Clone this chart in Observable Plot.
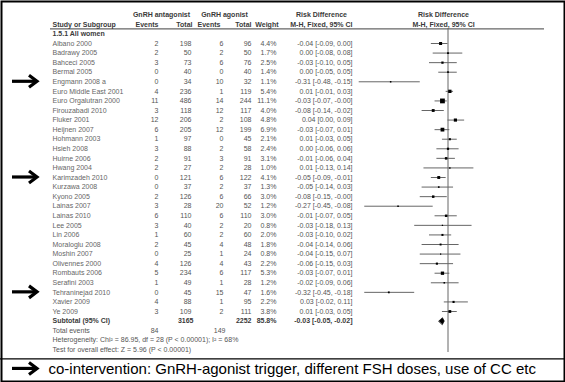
<!DOCTYPE html>
<html><head><meta charset="utf-8">
<script src="https://cdn.jsdelivr.net/npm/d3@7"></script>
<script src="https://cdn.jsdelivr.net/npm/@observablehq/plot@0.6"></script>
<style>
html,body{margin:0;padding:0;background:#fff}
#chart svg{display:block}
</style></head><body><div id="chart"></div>
<script>
// ---- data ----
const studies = ["Albano 2000","Badrawy 2005","Bahceci 2005","Bermal 2005","Engmann 2008 a","Euro Middle East 2001","Euro Orgalutran 2000","Firouzabadi 2010","Fluker 2001","Heijnen 2007","Hohmann 2003","Hsieh 2008","Huirne 2006","Hwang 2004","Karimzadeh 2010","Kurzawa 2008","Kyono 2005","Lainas 2007","Lainas 2010","Lee 2005","Lin 2006","Moraloglu 2008","Moshin 2007","Olivennes 2000","Rombauts 2006","Serafini 2003","Tehraninejad 2010","Xavier 2009","Ye 2009"];
const antagonistEvents = [2,2,3,0,0,4,11,3,12,6,1,3,2,2,0,0,2,3,6,3,1,2,0,4,5,1,0,4,3];
const antagonistTotal  = [198,50,73,40,34,236,486,118,206,205,97,88,91,27,121,37,126,28,110,40,60,45,25,126,234,49,45,88,109];
const agonistEvents    = [6,2,6,0,10,1,14,12,2,12,0,2,3,2,6,2,6,20,6,2,2,4,1,4,6,1,15,1,2];
const agonistTotal     = [96,50,76,40,32,119,244,117,108,199,45,58,91,28,122,37,66,52,110,20,60,48,24,43,117,28,47,95,111];
const weights          = [4.4,1.7,2.5,1.4,1.1,5.4,11.1,4.0,4.8,6.9,2.1,2.4,3.1,1.0,4.1,1.3,3.0,1.2,3.0,0.8,2.0,1.8,0.8,2.2,5.3,1.2,1.6,2.2,3.8];
const riskDiff         = [-0.04,0.00,-0.03,0.00,-0.31,0.01,-0.03,-0.08,0.04,-0.03,0.01,0.00,-0.01,0.01,-0.05,-0.05,-0.08,-0.27,-0.01,-0.03,-0.03,-0.04,-0.04,-0.06,-0.03,-0.02,-0.32,0.03,0.01];
const ciLow            = [-0.09,-0.08,-0.10,-0.05,-0.48,-0.01,-0.07,-0.14,0.00,-0.07,-0.03,-0.06,-0.06,-0.13,-0.09,-0.14,-0.15,-0.45,-0.07,-0.18,-0.10,-0.14,-0.15,-0.15,-0.07,-0.09,-0.45,-0.02,-0.03];
const ciHigh           = [0.00,0.08,0.05,0.05,-0.15,0.03,-0.004,-0.02,0.09,0.01,0.05,0.06,0.04,0.14,-0.01,0.03,-0.004,-0.08,0.05,0.13,0.02,0.06,0.07,0.03,0.01,0.06,-0.18,0.11,0.05];
const subtotal = {label: "Subtotal (95% CI)", n1: 3165, n2: 2252, weight: 85.8, rd: -0.03, lo: -0.05, hi: -0.02};
const totalEvents = {label: "Total events", e1: 84, e2: 149};
const heterogeneity = "Heterogeneity: Chi\u00b2 = 86.95, df = 28 (P < 0.00001); I\u00b2 = 68%";
const overallTest = "Test for overall effect: Z = 5.96 (P < 0.00001)";
const sectionTitle = "1.5.1 All women";
const groupHeaders = ["GnRH antagonist","GnRH agonist","Risk Difference","Risk Difference"];
const colHeaders = ["Study or Subgroup","Events","Total","Events","Total","Weight","M-H, Fixed, 95% CI","M-H, Fixed, 95% CI"];
const flagged = ["Engmann 2008 a","Karimzadeh 2010","Tehraninejad 2010"];
const caption = "co-intervention: GnRH-agonist trigger, different FSH doses, use of CC etc";

// ---- build ----
const rows = studies.map((s, i) => ({
  i, study: s, e1: antagonistEvents[i], n1: antagonistTotal[i], e2: agonistEvents[i], n2: agonistTotal[i],
  w: weights[i], rd: riskDiff[i], lo: ciLow[i], hi: ciHigh[i]
}));
const fmt = v => (v < 0 ? "-" : "") + Math.abs(v).toFixed(2);
const ciText = d => `${fmt(d.rd)} [${fmt(d.lo)}, ${fmt(d.hi)}]`;
const str = k => d => String(d[k]);
const N = rows.length;
const rowSub = N, rowTot = N + 1, rowHet = N + 2, rowTest = N + 3, rowCap = N + 5;
const rowSec = -1, rowHead = -2, rowGroup = -3;

const TXT = "#555", HEAD = "#3a3a3a", FS = 7;
const col = (data, y, text, dx, extra = {}) =>
  Plot.text(data, {y, text, frameAnchor: "left", dx, textAnchor: "end", fontSize: FS, fill: TXT, ...extra});

const diamond = [
  {x: subtotal.lo, y: rowSub}, {x: subtotal.rd, y: rowSub - 0.36},
  {x: subtotal.hi, y: rowSub}, {x: subtotal.rd, y: rowSub + 0.36}
];
const arrowRows = [...flagged.map(n => studies.indexOf(n)), rowCap];

const headerRow = [{y: rowHead}];
const groupRow = [{y: rowGroup}];
const subRow = [{y: rowSub, ...subtotal}];
const totRow = [{y: rowTot, ...totalEvents}];
const H = {fill: HEAD, fontWeight: "bold"};

const plot = Plot.plot({
  width: 565, height: 382, margin: 0,
  x: {domain: [-0.5, 0.5], range: [355, 540], axis: null},
  y: {domain: [0, N - 1], range: [43, 311], axis: null},
  r: {type: "sqrt", domain: [0, 11.1], range: [0, 2.7]},
  style: {fontFamily: "'Liberation Sans', Arial, sans-serif", background: "white"},
  marks: [
    Plot.frame({stroke: "black", strokeWidth: 2, inset: 1}),
    Plot.ruleY([rowHead], {dy: 4.5, stroke: "#666", strokeWidth: 1.3, insetLeft: 50, insetRight: 21}),
    Plot.ruleY([rowTest], {dy: 9, stroke: "black", strokeWidth: 1.2}),
    Plot.ruleX([0], {stroke: "#666", strokeWidth: 1, insetTop: 28, insetBottom: 30}),
    // group headers
    col(groupRow, "y", () => groupHeaders[0], 161, {textAnchor: "middle", ...H}),
    col(groupRow, "y", () => groupHeaders[1], 224, {textAnchor: "middle", ...H}),
    col(groupRow, "y", () => groupHeaders[2], 321, {textAnchor: "middle", ...H}),
    col(groupRow, "y", () => groupHeaders[3], 443, {textAnchor: "middle", ...H}),
    // column headers
    col(headerRow, "y", () => colHeaders[0], 52, {textAnchor: "start", ...H}),
    col(headerRow, "y", () => colHeaders[1], 158, H),
    col(headerRow, "y", () => colHeaders[2], 192, H),
    col(headerRow, "y", () => colHeaders[3], 220, H),
    col(headerRow, "y", () => colHeaders[4], 251, H),
    col(headerRow, "y", () => colHeaders[5], 278, H),
    col(headerRow, "y", () => colHeaders[6], 352, H),
    col(headerRow, "y", () => colHeaders[7], 443, {textAnchor: "middle", ...H}),
    col([{y: rowSec}], "y", () => sectionTitle, 52, {textAnchor: "start", ...H}),
    // study rows
    col(rows, "i", "study", 52, {textAnchor: "start", fill: "#666"}),
    col(rows, "i", str("e1"), 158),
    col(rows, "i", str("n1"), 191),
    col(rows, "i", str("e2"), 223),
    col(rows, "i", str("n2"), 251),
    col(rows, "i", d => d.w.toFixed(1) + "%", 276),
    col(rows, "i", ciText, 352),
    // subtotal
    col(subRow, "y", "label", 52, {textAnchor: "start", ...H}),
    col(subRow, "y", str("n1"), 193, H),
    col(subRow, "y", str("n2"), 251, H),
    col(subRow, "y", d => d.weight.toFixed(1) + "%", 276, H),
    col(subRow, "y", ciText, 352, H),
    // totals and tests
    col(totRow, "y", "label", 52, {textAnchor: "start"}),
    col(totRow, "y", str("e1"), 158),
    col(totRow, "y", str("e2"), 225),
    col([{y: rowHet}], "y", () => heterogeneity, 52, {textAnchor: "start"}),
    col([{y: rowTest}], "y", () => overallTest, 52, {textAnchor: "start"}),
    // forest marks
    Plot.ruleY(rows, {y: "i", x1: "lo", x2: "hi", stroke: "#666", strokeWidth: 1}),
    Plot.dot(rows, {x: "rd", y: "i", r: "w", symbol: "square", fill: "black", stroke: null}),
    Plot.line(diamond, {x: "x", y: "y", fill: "black", stroke: "black", strokeWidth: 0.6, curve: "linear-closed"}),
    // caption
    col([{y: rowCap}], "y", () => caption, 48, {textAnchor: "start", fill: "black", fontSize: 15}),
    // arrows
    (index, scales) => {
      const g = d3.create("svg:g");
      for (const r of arrowRows) {
        const yy = scales.y(r);
        g.append("path").attr("d", `M12,${yy}H35`).attr("stroke", "black").attr("stroke-width", 3.2);
        g.append("path").attr("d", `M29,${yy - 6}L37,${yy}L29,${yy + 6}`)
          .attr("fill", "none").attr("stroke", "black").attr("stroke-width", 3.2).attr("stroke-linejoin", "miter");
      }
      return g.node();
    }
  ]
});
document.getElementById("chart").append(plot);
</script>
</body></html>
